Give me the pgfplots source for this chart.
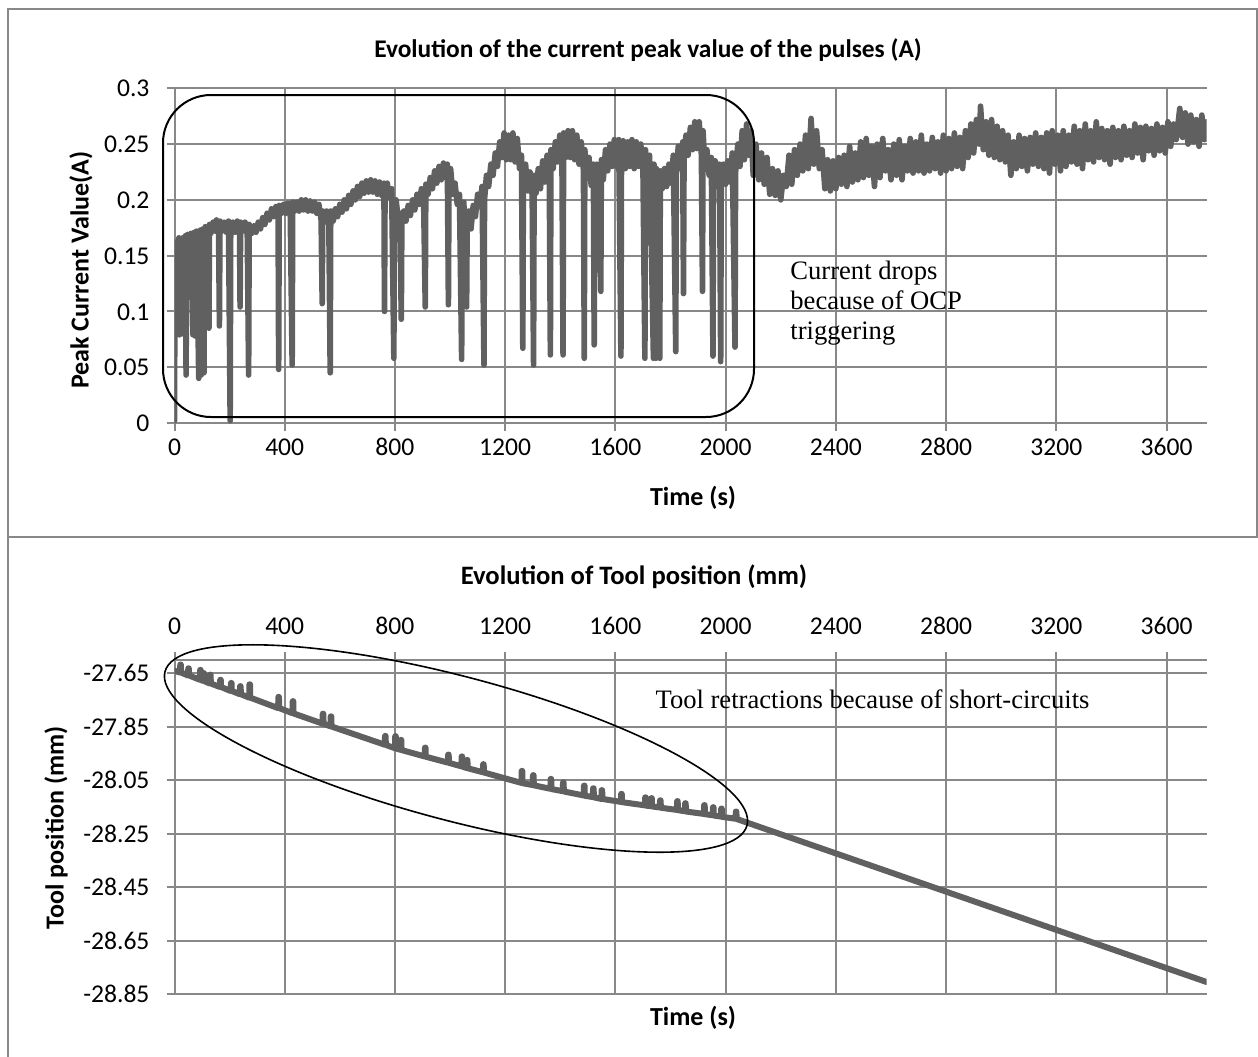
\documentclass[border=0pt]{standalone}
\usepackage{fontspec}
\setmainfont{Carlito}[Numbers=Lining]
\newfontfamily\tnr{Liberation Serif}
\usepackage{pgfplots}
\pgfplotsset{compat=1.18}

\definecolor{gridgray}{RGB}{136,136,136}
\definecolor{datagray}{RGB}{96,96,96}

\newcommand{\tickfont}{\fontsize{12.8bp}{15bp}\selectfont}
\newcommand{\labfont}{\fontsize{13bp}{15bp}\selectfont\bfseries}
\newcommand{\notefont}{\fontsize{13.3bp}{15bp}\selectfont\tnr}

\pgfplotsset{
  panel/.style={
    scale only axis, width=516bp,
    xmin=0, xmax=3745,
    xtick={0,400,800,1200,1600,2000,2400,2800,3200,3600},
    xticklabels={0,400,800,1200,1600,2000,2400,2800,3200,3600},
    grid=major, grid style={gridgray, line width=1bp},
    axis y line*=left,
    axis line style={gridgray, line width=1bp},
    tick style={gridgray, line width=1bp},
    tick align=outside, major tick length=4bp,
    ticklabel style={font=\tickfont, text height=8.6bp, text depth=0pt},
    yticklabel style={xshift=-5bp},
  },
  series/.style={datagray, line width=2.8bp, line join=round, line cap=round, no markers},
}

\begin{document}
\begin{tikzpicture}
\useasboundingbox (0,0) rectangle (629bp,-528.5bp);

% panel frames
\draw[gridgray, line width=1bp] (3.75bp,-4.6bp) rectangle (628.3bp,-268.5bp);
\draw[gridgray, line width=1bp] (3.75bp,-268.5bp) -- (3.75bp,-528.5bp);

% ---------- top: peak current ----------
\begin{axis}[panel,
  at={(87.25bp,-211.5bp)}, anchor=south west, height=167.35bp,
  ymin=0, ymax=0.3,
  ytick={0,0.05,0.1,0.15,0.2,0.25,0.3},
  yticklabels={0,0.05,0.1,0.15,0.2,0.25,0.3},
  axis x line*=bottom,
]
\addplot[series] coordinates {
(0,0.002)(2,0.162)(8,0.156)(16,0.166)(18,0.079)(20,0.16)(24,0.158)(28,0.08)(30,0.166)(36,0.158)(40,0.168)
(42,0.043)(44,0.16)(48,0.169)(56,0.160)(60,0.170)(67,0.079)(69,0.162)(72,0.171)(75,0.078)(77,0.163)(80,0.172)
(88,0.04)(90,0.164)(94,0.173)(97,0.043)(99,0.165)(104,0.174)(107,0.045)(109,0.166)(112,0.176)(118,0.168)
(125,0.085)(127,0.178)(132,0.17)(140,0.18)(148,0.172)(152,0.182)(160,0.173)(163,0.087)(165,0.181)(172,0.172)
(180,0.18)(188,0.171)(196,0.181)(202,0.002)(204,0.172)(212,0.18)(220,0.171)(228,0.181)(236,0.172)(238,0.104)
(240,0.18)(248,0.172)(256,0.18)(264,0.171)(269,0.043)(271,0.178)(280,0.17)(288,0.177)(296,0.171)(304,0.18)
(312,0.174)(320,0.184)(328,0.178)(336,0.188)(344,0.182)(352,0.192)(360,0.185)(368,0.194)(376,0.186)(378,0.048)
(380,0.195)(388,0.188)(396,0.196)(404,0.188)(412,0.197)(420,0.189)(427,0.052)(429,0.198)(436,0.19)(444,0.198)
(452,0.19)(460,0.2)(468,0.191)(476,0.2)(484,0.19)(492,0.199)(500,0.19)(508,0.198)(516,0.188)(524,0.196)(532,0.182)
(536,0.107)(538,0.19)(544,0.18)(552,0.19)(560,0.181)(565,0.045)(567,0.19)(576,0.181)(584,0.192)(592,0.185)
(600,0.196)(608,0.189)(616,0.2)(624,0.192)(632,0.204)(640,0.196)(648,0.208)(656,0.2)(664,0.212)(672,0.203)
(680,0.215)(688,0.206)(696,0.217)(704,0.207)(712,0.218)(720,0.207)(728,0.217)(736,0.205)(744,0.216)(752,0.204)
(760,0.215)(762,0.10)(764,0.205)(772,0.215)(780,0.202)(788,0.21)(796,0.058)(798,0.196)(804,0.2)(812,0.183)
(818,0.188)(823,0.093)(825,0.178)(832,0.19)(840,0.181)(848,0.195)(856,0.186)(864,0.2)(872,0.191)(880,0.205)
(888,0.196)(896,0.21)(904,0.2)(910,0.104)(912,0.214)(920,0.205)(928,0.22)(936,0.21)(944,0.226)(952,0.215)
(960,0.23)(968,0.218)(976,0.233)(984,0.22)(990,0.232)(994,0.106)(996,0.216)(1002,0.228)(1010,0.205)(1018,0.215)
(1026,0.196)(1034,0.205)(1042,0.057)(1044,0.188)(1050,0.198)(1060,0.104)(1062,0.178)(1068,0.19)(1076,0.174)
(1084,0.195)(1092,0.185)(1100,0.205)(1108,0.195)(1116,0.212)(1123,0.052)(1125,0.2)(1132,0.222)(1140,0.212)
(1148,0.232)(1156,0.222)(1164,0.242)(1172,0.23)(1180,0.252)(1188,0.238)(1196,0.26)(1204,0.236)(1212,0.258)
(1220,0.236)(1228,0.26)(1236,0.234)(1244,0.255)(1252,0.228)(1259,0.24)(1264,0.067)(1266,0.218)(1274,0.232)
(1282,0.208)(1290,0.225)(1298,0.204)(1303,0.052)(1305,0.222)(1312,0.206)(1320,0.228)(1328,0.21)(1336,0.235)
(1344,0.216)(1352,0.24)(1360,0.222)(1364,0.061)(1366,0.245)(1374,0.228)(1382,0.252)(1390,0.234)(1398,0.258)
(1406,0.236)(1410,0.061)(1412,0.26)(1420,0.238)(1428,0.262)(1436,0.238)(1444,0.262)(1452,0.236)(1460,0.258)
(1468,0.232)(1476,0.252)(1484,0.226)(1487,0.058)(1489,0.245)(1496,0.222)(1504,0.238)(1512,0.213)(1520,0.232)
(1523,0.07)(1525,0.212)(1532,0.232)(1540,0.214)(1547,0.118)(1549,0.236)(1556,0.218)(1564,0.245)(1572,0.226)
(1580,0.25)(1588,0.23)(1596,0.254)(1604,0.23)(1612,0.254)(1620,0.06)(1622,0.232)(1628,0.253)(1636,0.228)
(1644,0.252)(1652,0.23)(1660,0.254)(1668,0.228)(1676,0.252)(1684,0.23)(1692,0.25)(1700,0.226)(1707,0.058)
(1709,0.245)(1716,0.222)(1724,0.24)(1738,0.058)(1740,0.232)(1744,0.212)(1747,0.058)(1749,0.228)(1754,0.208)
(1761,0.058)(1763,0.226)(1770,0.21)(1778,0.228)(1786,0.212)(1794,0.232)(1802,0.215)(1810,0.24)(1819,0.064)
(1821,0.222)(1828,0.248)(1836,0.228)(1844,0.252)(1847,0.116)(1849,0.235)(1856,0.258)(1864,0.24)(1872,0.265)
(1880,0.245)(1888,0.27)(1896,0.246)(1904,0.27)(1912,0.24)(1916,0.118)(1918,0.262)(1924,0.232)(1932,0.245)
(1940,0.222)(1948,0.238)(1954,0.06)(1956,0.216)(1962,0.235)(1970,0.212)(1978,0.232)(1982,0.055)(1984,0.214)
(1992,0.232)(2000,0.214)(2008,0.235)(2016,0.216)(2024,0.242)(2034,0.068)(2036,0.224)(2044,0.25)(2052,0.23)
(2060,0.262)(2068,0.236)(2076,0.268)(2084,0.24)(2092,0.262)
(2100,0.222)(2110,0.25)(2120,0.218)(2130,0.242)(2140,0.214)(2150,0.238)(2160,0.205)(2170,0.228)(2180,0.204)
(2190,0.226)(2200,0.2)(2210,0.222)(2220,0.212)(2230,0.24)(2240,0.214)(2250,0.245)(2260,0.222)(2270,0.25)(2280,0.226)
(2290,0.258)(2300,0.228)(2310,0.273)(2320,0.232)(2330,0.262)(2340,0.228)(2350,0.245)(2360,0.21)(2370,0.236)(2380,0.208)
(2390,0.235)(2400,0.21)(2410,0.238)(2420,0.214)(2430,0.24)(2440,0.212)(2450,0.248)(2460,0.216)(2470,0.242)(2480,0.218)
(2490,0.252)(2500,0.22)(2510,0.255)(2520,0.222)(2530,0.248)(2540,0.212)(2550,0.25)(2560,0.22)(2570,0.255)(2580,0.226)
(2590,0.245)(2600,0.218)(2610,0.25)(2620,0.222)(2630,0.254)(2640,0.218)(2650,0.248)(2660,0.226)(2670,0.255)(2680,0.224)
(2690,0.252)(2700,0.226)(2710,0.258)(2720,0.224)(2730,0.25)(2740,0.226)(2750,0.256)(2760,0.228)(2770,0.252)(2780,0.224)
(2790,0.258)(2800,0.226)(2810,0.255)(2820,0.228)(2830,0.26)(2840,0.23)(2850,0.256)(2860,0.228)(2870,0.262)(2880,0.238)
(2890,0.268)(2900,0.242)(2910,0.272)(2920,0.25)(2925,0.284)(2935,0.245)(2945,0.27)(2955,0.24)(2965,0.272)(2975,0.238)
(2985,0.266)(2995,0.236)(3005,0.262)(3015,0.234)(3025,0.258)(3035,0.222)(3045,0.252)(3055,0.228)(3065,0.258)(3075,0.23)
(3085,0.255)(3095,0.226)(3105,0.256)(3115,0.232)(3125,0.26)(3135,0.23)(3145,0.256)(3155,0.228)(3165,0.26)(3175,0.224)
(3185,0.262)(3195,0.232)(3205,0.258)(3215,0.226)(3225,0.262)(3235,0.23)(3245,0.258)(3255,0.234)(3265,0.266)(3275,0.232)
(3285,0.262)(3295,0.228)(3305,0.268)(3315,0.236)(3325,0.262)(3335,0.234)(3345,0.27)(3355,0.238)(3365,0.264)(3375,0.236)
(3385,0.262)(3395,0.232)(3405,0.265)(3415,0.238)(3425,0.262)(3435,0.236)(3445,0.266)(3455,0.24)(3465,0.262)(3475,0.238)
(3485,0.268)(3495,0.242)(3505,0.265)(3515,0.236)(3525,0.266)(3535,0.244)(3545,0.264)(3555,0.24)(3565,0.268)(3575,0.244)
(3585,0.265)(3595,0.242)(3605,0.27)(3615,0.248)(3625,0.268)(3635,0.254)(3648,0.282)(3658,0.256)(3668,0.278)(3678,0.25)
(3688,0.276)(3698,0.252)(3708,0.272)(3718,0.248)(3728,0.276)(3738,0.254)(3745,0.27)
};
\end{axis}

% ---------- bottom: tool position ----------
\begin{axis}[panel,
  at={(87.25bp,-497bp)}, anchor=south west, height=167bp,
  ymin=-28.85, ymax=-27.6,
  ytick={-28.85,-28.65,-28.45,-28.25,-28.05,-27.85,-27.65},
  yticklabels={-28.85,-28.65,-28.45,-28.25,-28.05,-27.85,-27.65},
  axis x line*=top,
  xticklabel style={yshift=5bp},
]
\addplot[series, line width=3bp] coordinates {
(0,-27.64)
(20,-27.647)(21,-27.617)(23,-27.617)(24,-27.647)
(49,-27.658)(50,-27.631)(52,-27.631)(53,-27.658)
(92,-27.674)(93,-27.637)(95,-27.637)(96,-27.674)
(104,-27.679)(105,-27.649)(107,-27.649)(108,-27.679)
(128,-27.688)(129,-27.655)(131,-27.655)(132,-27.688)
(165,-27.701)(166,-27.674)(168,-27.674)(169,-27.701)
(204,-27.716)(205,-27.686)(207,-27.686)(208,-27.716)
(237,-27.728)(238,-27.698)(240,-27.698)(241,-27.728)
(271,-27.741)(272,-27.691)(274,-27.691)(275,-27.741)
(376,-27.78)(377,-27.738)(379,-27.738)(380,-27.78)
(428,-27.799)(429,-27.754)(431,-27.754)(432,-27.80)
(537,-27.838)(538,-27.801)(540,-27.801)(541,-27.839)
(566,-27.848)(567,-27.811)(569,-27.811)(570,-27.849)
(763,-27.917)(764,-27.884)(766,-27.884)(767,-27.918)
(800,-27.93)(801,-27.885)(803,-27.885)(804,-27.931)
(820,-27.936)(821,-27.899)(823,-27.899)(824,-27.937)
(908,-27.961)(909,-27.928)(911,-27.928)(912,-27.962)
(992,-27.984)(993,-27.954)(995,-27.954)(996,-27.985)
(1041,-27.998)(1042,-27.961)(1044,-27.961)(1045,-27.999)
(1060,-28.004)(1061,-27.974)(1063,-27.974)(1064,-28.005)
(1119,-28.02)(1120,-27.99)(1122,-27.99)(1123,-28.021)
(1259,-28.06)(1260,-28.015)(1262,-28.015)(1263,-28.061)
(1300,-28.068)(1301,-28.031)(1303,-28.031)(1304,-28.069)
(1364,-28.082)(1365,-28.045)(1367,-28.045)(1368,-28.083)
(1409,-28.091)(1410,-28.058)(1412,-28.058)(1413,-28.092)
(1485,-28.107)(1486,-28.07)(1488,-28.07)(1489,-28.108)
(1518,-28.113)(1519,-28.08)(1521,-28.08)(1522,-28.114)
(1549,-28.12)(1550,-28.087)(1552,-28.087)(1553,-28.12)
(1620,-28.131)(1621,-28.101)(1623,-28.101)(1624,-28.132)
(1707,-28.144)(1708,-28.114)(1710,-28.114)(1711,-28.145)
(1729,-28.147)(1730,-28.117)(1732,-28.117)(1733,-28.148)
(1761,-28.152)(1762,-28.125)(1764,-28.125)(1765,-28.153)
(1823,-28.161)(1824,-28.128)(1826,-28.128)(1827,-28.162)
(1852,-28.166)(1853,-28.136)(1855,-28.136)(1856,-28.167)
(1921,-28.176)(1922,-28.143)(1924,-28.143)(1925,-28.177)
(1953,-28.181)(1954,-28.151)(1956,-28.151)(1957,-28.182)
(1983,-28.186)(1984,-28.156)(1986,-28.156)(1987,-28.187)
(2036,-28.194)(2037,-28.167)(2039,-28.167)(2040,-28.195)
(3745,-28.805)
};
\end{axis}

% titles and axis labels
\node[font=\fontsize{12.7bp}{15bp}\selectfont\bfseries] at (324bp,-25bp) {Evolution of the current peak value of the pulses (A)};
\node[font=\labfont, rotate=90] at (40.5bp,-135bp) {Peak Current Value(A)};
\node[font=\labfont] at (346.5bp,-249bp) {Time (s)};
\node[font=\fontsize{13.3bp}{15bp}\selectfont\bfseries] at (317bp,-288.5bp) {Evolution of Tool position (mm)};
\node[font=\labfont, rotate=90] at (28bp,-414bp) {Tool position (mm)};
\node[font=\labfont] at (346.5bp,-509bp) {Time (s)};

% annotations
\draw[black, line width=1bp, rounded corners=24bp] (81.5bp,-47.5bp) rectangle (377bp,-208.5bp);
\node[font=\notefont, anchor=base west, inner sep=0] at (395bp,-139.5bp) {Current drops};
\node[font=\notefont, anchor=base west, inner sep=0] at (395bp,-154.7bp) {because of OCP};
\node[font=\notefont, anchor=base west, inner sep=0] at (395bp,-169.7bp) {triggering};
\draw[black, line width=0.8bp, rotate around={-14.8:(228bp,-374.25bp)}] (228bp,-374.25bp) ellipse [x radius=150.5bp, y radius=36bp];
\node[font=\notefont, anchor=base west, inner sep=0] at (327.6bp,-354.2bp) {Tool retractions because of short-circuits};
\end{tikzpicture}
\end{document}
